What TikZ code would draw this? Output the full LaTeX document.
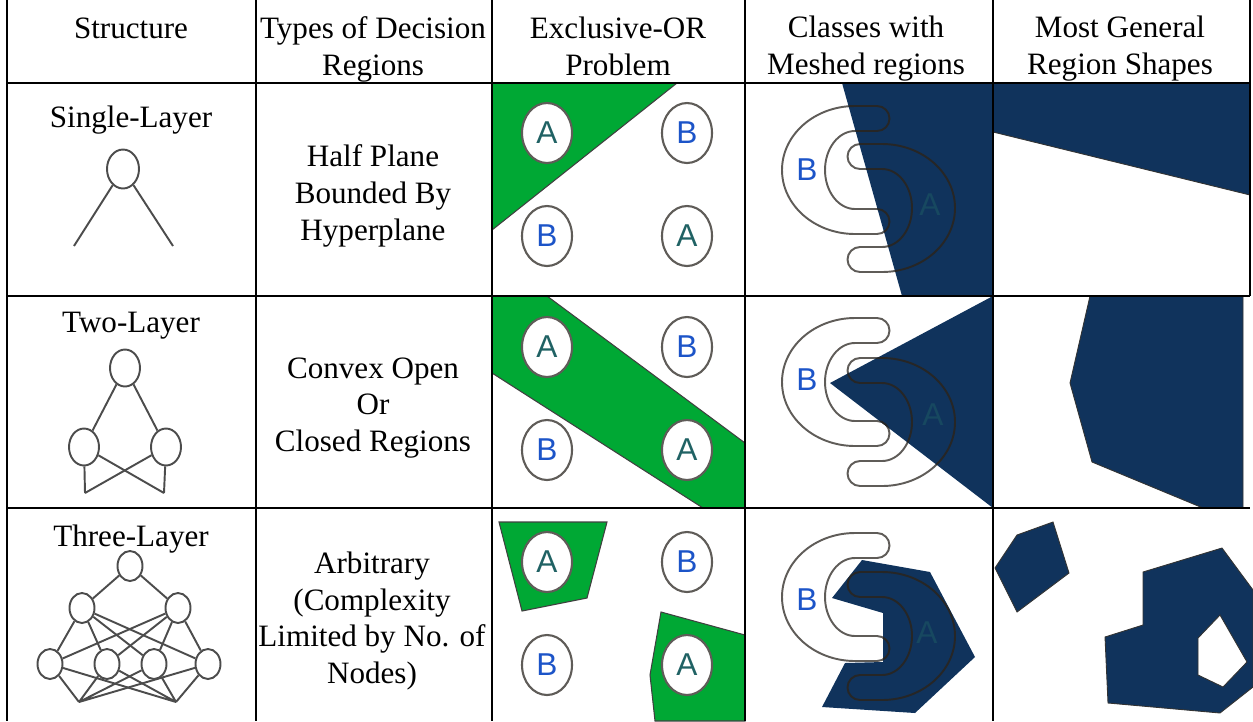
\documentclass[tikz,border=0pt]{standalone}
\usepackage{fontspec}
\setmainfont{Liberation Serif}
\newfontfamily\labelfont{Liberation Sans}
\usetikzlibrary{shapes.geometric}

\definecolor{xorGreen}{RGB}{0,168,52}
\definecolor{meshNavy}{RGB}{16,51,92}
\definecolor{classA}{RGB}{32,98,100}
\definecolor{classB}{RGB}{28,84,200}
\definecolor{ringGray}{RGB}{95,92,88}

\tikzset{
    % Table
    gridLine/.style={
        draw=black,
        line width=1.6pt
    },
    cellText/.style={
        align=center,
        inner sep=0pt,
        font=\fontsize{17.7}{21}\selectfont
    },
    % Network sketches
    neuron/.style={
        ellipse,
        draw=black!70,
        line width=1.1pt,
        inner sep=0pt
    },
    neuronOne/.style={neuron, minimum width=0.64cm, minimum height=0.78cm},
    neuronTwo/.style={neuron, minimum width=0.6cm, minimum height=0.74cm},
    neuronThree/.style={neuron, minimum width=0.5cm, minimum height=0.6cm},
    synapse/.style={
        draw=black!70,
        line width=1.1pt
    },
    % Exclusive-OR cells
    xorRegion/.style={
        fill=xorGreen,
        draw=black!75,
        line width=0.6pt
    },
    sample/.style={
        ellipse,
        draw=ringGray,
        line width=1.2pt,
        fill=white,
        minimum width=1cm,
        minimum height=1.2cm,
        inner sep=0pt,
        font=\labelfont\fontsize{18}{20}\selectfont
    },
    sampleA/.style={sample, text=classA},
    sampleB/.style={sample, text=classB},
    % Meshed classes and general shapes
    meshRegion/.style={
        fill=meshNavy,
        draw=none
    },
    generalRegion/.style={
        fill=meshNavy,
        draw=black!80,
        line width=0.5pt
    },
    classLabel/.style={
        inner sep=0pt,
        font=\labelfont\fontsize{18}{20}\selectfont
    },
    horseLine/.style={draw=ringGray, line width=1.1pt},
    horseDark/.style={draw=black!85, line width=1.1pt},
    horse/.pic={
        \draw[#1] (22,-64) -- (0,-64)
            arc[start angle=270, end angle=90, x radius=73, y radius=64]
            -- (22,64) arc[start angle=90, end angle=-90, radius=12.5]
            -- (0,39) arc[start angle=90, end angle=270, x radius=30, y radius=39]
            -- (22,-39) arc[start angle=90, end angle=-90, radius=12.5] -- cycle;
    }
}

\begin{document}
\begin{tikzpicture}[x=0.02cm, y=-0.02cm]

    \useasboundingbox (0,0) rectangle (1253,721);

    % header
    \node[cellText] (headStructure) at (131,28) {Structure};
    \node[cellText] (headTypes) at (373,49) {Types of Decision\\Regions};
    \node[cellText] (headXor) at (618,46) {Exclusive-OR\\Problem};
    \node[cellText] (headMesh) at (866,49) {Classes with\\Meshed regions};
    \node[cellText] (headGeneral) at (1120,49) {Most General\\Region Shapes};

    % structures
    \node[cellText] (structOne) at (131,120) {Single-Layer};
    \node[neuronOne] (outOne) at (123,169) {};
    \coordinate (inOneL) at (74,246);
    \coordinate (inOneR) at (173,246);
    \draw[synapse] (outOne) -- (inOneL) (outOne) -- (inOneR);

    \node[cellText] (structTwo) at (131,326) {Two-Layer};
    \node[neuronTwo] (outTwo) at (125,368) {};
    \node[neuronTwo] (hidTwoL) at (84,447) {};
    \node[neuronTwo] (hidTwoR) at (166,447) {};
    \coordinate (inTwoL) at (85,493);
    \coordinate (inTwoR) at (164,493);
    \draw[synapse] (outTwo) -- (hidTwoL) (outTwo) -- (hidTwoR);
    \draw[synapse] (hidTwoL) -- (inTwoL) (hidTwoL) -- (inTwoR);
    \draw[synapse] (hidTwoR) -- (inTwoL) (hidTwoR) -- (inTwoR);

    \node[cellText] (structThree) at (131,539) {Three-Layer};
    \node[neuronThree] (outThree) at (130,566) {};
    \node[neuronThree] (upThreeL) at (82,608) {};
    \node[neuronThree] (upThreeR) at (178,608) {};
    \node[neuronThree] (lowThreeA) at (50,664) {};
    \node[neuronThree] (lowThreeB) at (107,664) {};
    \node[neuronThree] (lowThreeC) at (154,664) {};
    \node[neuronThree] (lowThreeD) at (208,664) {};
    \coordinate (inThreeL) at (79,702);
    \coordinate (inThreeR) at (176,702);
    \draw[synapse] (outThree) -- (upThreeL) (outThree) -- (upThreeR);
    \draw[synapse] (upThreeL) -- (lowThreeA) (upThreeL) -- (lowThreeB) (upThreeL) -- (lowThreeC) (upThreeL) -- (lowThreeD);
    \draw[synapse] (upThreeR) -- (lowThreeA) (upThreeR) -- (lowThreeB) (upThreeR) -- (lowThreeC) (upThreeR) -- (lowThreeD);
    \draw[synapse] (lowThreeA) -- (inThreeL) (lowThreeB) -- (inThreeL) (lowThreeC) -- (inThreeL) (lowThreeD) -- (inThreeL);
    \draw[synapse] (lowThreeA) -- (inThreeR) (lowThreeB) -- (inThreeR) (lowThreeC) -- (inThreeR) (lowThreeD) -- (inThreeR);

    % decision region types
    \node[cellText] (typeHalf) at (373,196) {Half Plane\\Bounded By\\Hyperplane};
    \node[cellText] (typeConvex) at (373,408) {Convex Open\\Or\\Closed Regions};
    \node[cellText] (typeArbitrary) at (372,621) {Arbitrary\\(Complexity\\Limited by No. of\\Nodes)};

    % exclusive-or problem
    \draw[xorRegion] (492,83) -- (677,83) -- (492,230) -- cycle;
    \node[sampleA] (xorOneA) at (547,133) {A};
    \node[sampleB] (xorOneB) at (687,133) {B};
    \node[sampleB] (xorOneC) at (547,236) {B};
    \node[sampleA] (xorOneD) at (687,236) {A};

    \draw[xorRegion] (492,296) -- (547,296) -- (745,443) -- (745,508) -- (703,508) -- (492,373) -- cycle;
    \node[sampleA] (xorTwoA) at (547,347) {A};
    \node[sampleB] (xorTwoB) at (687,347) {B};
    \node[sampleB] (xorTwoC) at (547,450) {B};
    \node[sampleA] (xorTwoD) at (687,450) {A};

    \draw[xorRegion] (499,522) -- (607,522) -- (587,598) -- (522,611) -- cycle;
    \draw[xorRegion] (661,612) -- (745,635) -- (745,721) -- (655,721) -- (650,675) -- cycle;
    \node[sampleA] (xorThreeA) at (547,562) {A};
    \node[sampleB] (xorThreeB) at (687,562) {B};
    \node[sampleB] (xorThreeC) at (547,665) {B};
    \node[sampleA] (xorThreeD) at (687,665) {A};

    % meshed classes
    \def\meshOne{(842,83) -- (993,83) -- (993,296) -- (902,296) -- cycle}
    \def\meshTwo{(830,383) -- (993,296) -- (993,508) -- cycle}
    \def\meshThree{(862,560) -- (930,572) -- (975,657) -- (915,713) -- (822,707) -- (845,663) -- (883,662) -- (883,613) -- (832,598) -- cycle}

    \pic at (855,170) {horse=horseLine};
    \pic[xscale=-1] at (882,208) {horse=horseLine};
    \node[classLabel, text=classB] (meshOneB) at (807,170) {B};
    \fill[meshRegion] \meshOne;
    \begin{scope}
        \clip \meshOne;
        \pic at (855,170) {horse=horseDark};
        \pic[xscale=-1] at (882,208) {horse=horseDark};
    \end{scope}
    \node[classLabel, text=classA!45!meshNavy] (meshOneA) at (930,205) {A};

    \pic at (855,382) {horse=horseLine};
    \pic[xscale=-1] at (882,422) {horse=horseLine};
    \node[classLabel, text=classB] (meshTwoB) at (807,380) {B};
    \fill[meshRegion] \meshTwo;
    \begin{scope}
        \clip \meshTwo;
        \pic at (855,382) {horse=horseDark};
        \pic[xscale=-1] at (882,422) {horse=horseDark};
    \end{scope}
    \node[classLabel, text=classA!45!meshNavy] (meshTwoA) at (933,415) {A};

    \pic at (855,597) {horse=horseLine};
    \pic[xscale=-1] at (882,636) {horse=horseLine};
    \node[classLabel, text=classB] (meshThreeB) at (807,600) {B};
    \fill[meshRegion] \meshThree;
    \begin{scope}
        \clip \meshThree;
        \pic at (855,597) {horse=horseDark};
        \pic[xscale=-1] at (882,636) {horse=horseDark};
    \end{scope}
    \node[classLabel, text=classA!45!meshNavy] (meshThreeA) at (927,633) {A};

    % most general region shapes
    \draw[generalRegion] (993,83) -- (1250,83) -- (1250,195) -- (993,132) -- cycle;
    \draw[generalRegion] (1090,296) -- (1243,296) -- (1243,508) -- (1203,508) -- (1092,462) -- (1070,383) -- cycle;
    \draw[generalRegion] (995,568) -- (1017,535) -- (1053,522) -- (1069,573) -- (1017,612) -- cycle;
    \draw[generalRegion, even odd rule] (1143,572) -- (1222,548) -- (1253,590) -- (1253,687) -- (1220,713) -- (1108,703) -- (1105,637) -- (1143,625) -- cycle
        (1220,615) -- (1247,662) -- (1223,687) -- (1198,675) -- (1198,638) -- cycle;

    % table rules
    \draw[gridLine] (7,83) -- (1250,83) (7,296) -- (1250,296) (7,508) -- (1250,508);
    \draw[gridLine] (7,0) -- (7,721) (256,0) -- (256,721) (492,0) -- (492,721) (745,0) -- (745,721) (993,0) -- (993,721) (1250,0) -- (1250,296);

\end{tikzpicture}
\end{document}
